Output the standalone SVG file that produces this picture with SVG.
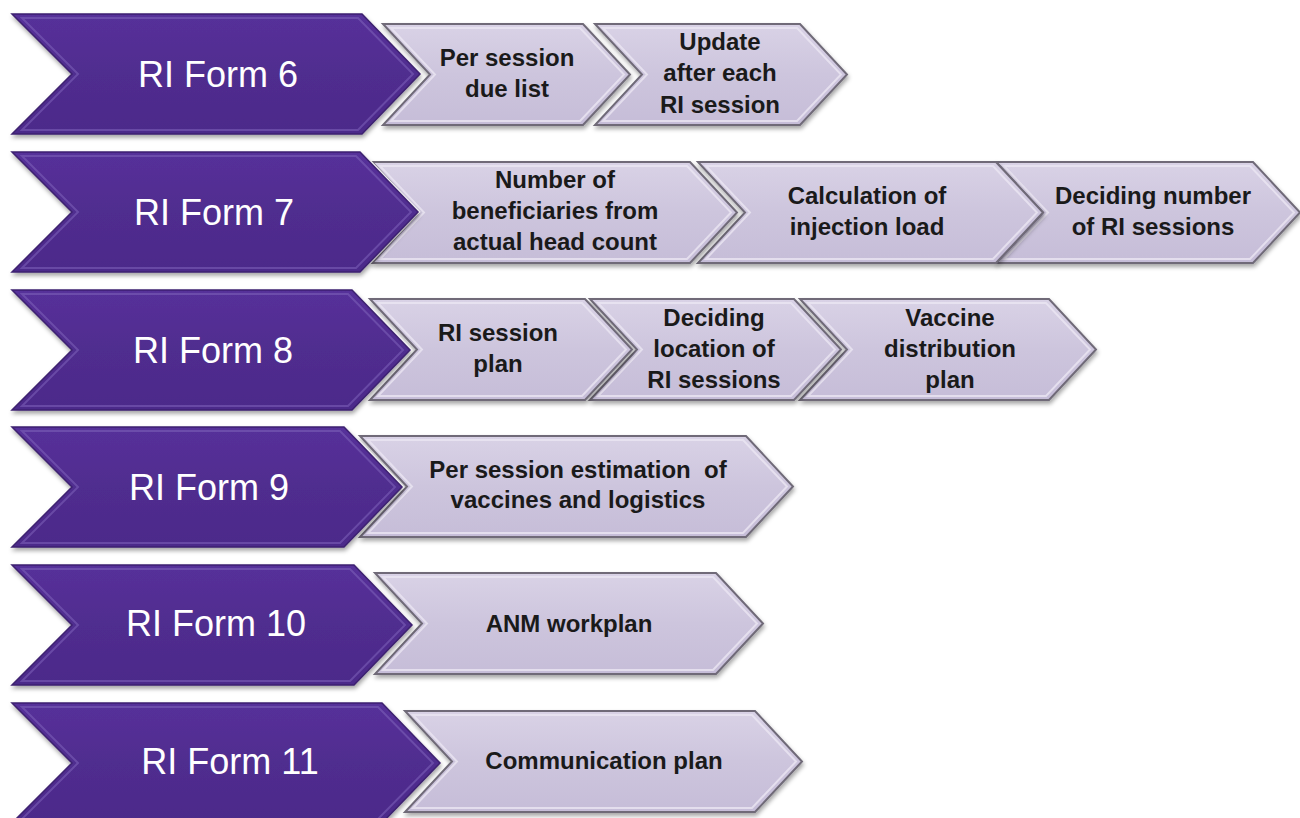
<svg xmlns="http://www.w3.org/2000/svg" width="1300" height="818" viewBox="0 0 1300 818">
<defs>
<linearGradient id="gp" x1="0" y1="0" x2="0" y2="1">
<stop offset="0" stop-color="#56309a"/>
<stop offset="0.5" stop-color="#502d8f"/>
<stop offset="1" stop-color="#4c2a8a"/>
</linearGradient>
<linearGradient id="gl" x1="0" y1="0" x2="0" y2="1">
<stop offset="0" stop-color="#d9d2e6"/>
<stop offset="0.5" stop-color="#cdc5dd"/>
<stop offset="1" stop-color="#c6bdd8"/>
</linearGradient>
<filter id="sh" x="-5%" y="-10%" width="115%" height="130%">
<feDropShadow dx="1" dy="3" stdDeviation="2" flood-color="#000" flood-opacity="0.35"/>
</filter>
</defs>
<style>
.p{fill:url(#gp);stroke:#3d2170;stroke-width:1.5;filter:url(#sh)}
.pw{fill:none;stroke:#ffffff;stroke-width:4}
.pi{fill:none;stroke:#7b5fb8;stroke-width:2;opacity:0.6}
.l{fill:url(#gl);stroke:#6f6a78;stroke-width:2;filter:url(#sh)}
.li{fill:none;stroke:#ebe6f3;stroke-width:2;opacity:0.8}
.pt{font-family:"Liberation Sans",Arial,sans-serif;font-size:36px;fill:#fff;text-anchor:middle}
.lt{font-family:"Liberation Sans",Arial,sans-serif;font-size:24px;font-weight:bold;fill:#1a1a1a;text-anchor:middle}
</style>

<!-- Row 1 -->
<g id="row1-l2"><polygon class="l" points="595,24 800,24 847,74.5 800,125 595,125 642,74.5"/><polygon class="li" points="603,28 797,28 841,74.5 797,121 603,121 647,74.5"/>
<text class="lt" x="720" y="50">Update</text><text class="lt" x="720" y="81">after each</text><text class="lt" x="720" y="113">RI session</text></g>
<g id="row1-l1"><polygon class="l" points="383,24 583,24 630,74.5 583,125 383,125 430,74.5"/><polygon class="li" points="391,28 580,28 624,74.5 580,121 391,121 435,74.5"/>
<text class="lt" x="507" y="66">Per session</text><text class="lt" x="507" y="97">due list</text></g>
<g id="form6"><polyline class="pw" points="362,14 420,74 362,134"/><polygon class="p" points="12,14 362,14 420,74 362,134 12,134 72,74"/><polygon class="pi" points="22,18 358,18 413,74 358,130 22,130 78,74"/>
<text class="pt" x="218" y="87">RI Form 6</text></g>

<!-- Row 2 -->
<g id="row2-l3"><polygon class="l" points="996,162 1253,162 1300,212.5 1253,263 996,263 1043,212.5"/><polygon class="li" points="1004,166 1250,166 1294,212.5 1250,259 1004,259 1048,212.5"/>
<text class="lt" x="1153" y="204">Deciding number</text><text class="lt" x="1153" y="235">of RI sessions</text></g>
<g id="row2-l2"><polygon class="l" points="698,162 996,162 1043,212.5 996,263 698,263 745,212.5"/><polygon class="li" points="706,166 993,166 1037,212.5 993,259 706,259 750,212.5"/>
<text class="lt" x="867" y="204">Calculation of</text><text class="lt" x="867" y="235">injection load</text></g>
<g id="row2-l1"><polygon class="l" points="372,162 690,162 737,212.5 690,263 372,263 419,212.5"/><polygon class="li" points="380,166 687,166 731,212.5 687,259 380,259 424,212.5"/>
<text class="lt" x="555" y="188">Number of</text><text class="lt" x="555" y="219">beneficiaries from</text><text class="lt" x="555" y="250">actual head count</text></g>
<g id="form7"><polyline class="pw" points="360,152 418,212 360,272"/><polygon class="p" points="12,152 360,152 418,212 360,272 12,272 72,212"/><polygon class="pi" points="22,156 356,156 411,212 356,268 22,268 78,212"/>
<text class="pt" x="214" y="225">RI Form 7</text></g>

<!-- Row 3 -->
<g id="row3-l3"><polygon class="l" points="800,299 1049,299 1096,349.5 1049,400 800,400 847,349.5"/><polygon class="li" points="808,303 1046,303 1090,349.5 1046,396 808,396 852,349.5"/>
<text class="lt" x="950" y="326">Vaccine</text><text class="lt" x="950" y="357">distribution</text><text class="lt" x="950" y="388">plan</text></g>
<g id="row3-l2"><polygon class="l" points="590,299 794,299 841,349.5 794,400 590,400 637,349.5"/><polygon class="li" points="598,303 791,303 835,349.5 791,396 598,396 642,349.5"/>
<text class="lt" x="714" y="326">Deciding</text><text class="lt" x="714" y="357">location of</text><text class="lt" x="714" y="388">RI sessions</text></g>
<g id="row3-l1"><polygon class="l" points="370,299 585,299 632,349.5 585,400 370,400 417,349.5"/><polygon class="li" points="378,303 582,303 626,349.5 582,396 378,396 422,349.5"/>
<text class="lt" x="498" y="341">RI session</text><text class="lt" x="498" y="372">plan</text></g>
<g id="form8"><polyline class="pw" points="352,290 410,350 352,410"/><polygon class="p" points="12,290 352,290 410,350 352,410 12,410 72,350"/><polygon class="pi" points="22,294 348,294 403,350 348,406 22,406 78,350"/>
<text class="pt" x="213" y="363">RI Form 8</text></g>

<!-- Row 4 -->
<g id="row4-l1"><polygon class="l" points="360,436 746,436 793,486.5 746,537 360,537 407,486.5"/><polygon class="li" points="368,440 743,440 787,486.5 743,533 368,533 412,486.5"/>
<text class="lt" x="578" y="478" xml:space="preserve">Per session estimation  of</text><text class="lt" x="578" y="508">vaccines and logistics</text></g>
<g id="form9"><polyline class="pw" points="344,427 402,487 344,547"/><polygon class="p" points="12,427 344,427 402,487 344,547 12,547 72,487"/><polygon class="pi" points="22,431 340,431 395,487 340,543 22,543 78,487"/>
<text class="pt" x="209" y="500">RI Form 9</text></g>

<!-- Row 5 -->
<g id="row5-l1"><polygon class="l" points="375,573 716,573 763,623.5 716,674 375,674 422,623.5"/><polygon class="li" points="383,577 713,577 757,623.5 713,670 383,670 427,623.5"/>
<text class="lt" x="569" y="632">ANM workplan</text></g>
<g id="form10"><polyline class="pw" points="354,565 412,625 354,685"/><polygon class="p" points="12,565 354,565 412,625 354,685 12,685 72,625"/><polygon class="pi" points="22,569 350,569 405,625 350,681 22,681 78,625"/>
<text class="pt" x="216" y="636">RI Form 10</text></g>

<!-- Row 6 -->
<g id="row6-l1"><polygon class="l" points="405,711 755,711 802,761.5 755,812 405,812 452,761.5"/><polygon class="li" points="413,715 752,715 796,761.5 752,808 413,808 457,761.5"/>
<text class="lt" x="604" y="769">Communication plan</text></g>
<g id="form11"><polyline class="pw" points="382,703 440,763 382,823"/><polygon class="p" points="12,703 382,703 440,763 382,823 12,823 72,763"/><polygon class="pi" points="22,707 378,707 433,763 378,819 22,819 78,763"/>
<text class="pt" x="230" y="774">RI Form 11</text></g>

<g id="connectors"/>
</svg>
